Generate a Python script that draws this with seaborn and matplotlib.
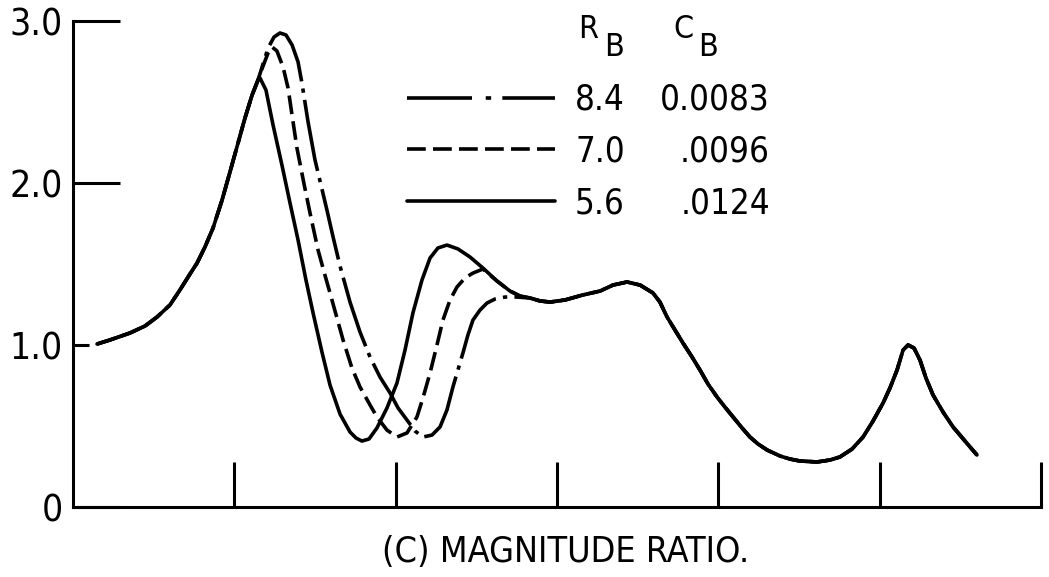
import os
import glob
import numpy as np
import pandas as pd
import matplotlib
matplotlib.use("Agg")
import matplotlib.pyplot as plt
import seaborn as sns
from matplotlib import font_manager as fm
from matplotlib.lines import Line2D

# ---------------- data ----------------
series_rb = ["8.4", "7.0", "5.6"]
series_cb = ["0.0083", ".0096", ".0124"]

# common rising branch (all three coincide)
rise_x = [0.149, 0.229, 0.353, 0.446, 0.521, 0.601, 0.663, 0.725, 0.769, 0.818,
          0.868, 0.924, 0.973, 1.023, 1.066, 1.110, 1.147]
rise_y = [1.006, 1.031, 1.074, 1.117, 1.173, 1.247, 1.340, 1.438, 1.506, 1.605,
          1.722, 1.895, 2.068, 2.247, 2.401, 2.543, 2.636]

# R_B = 5.6 (solid) distinct part
s56_x = [1.159, 1.196, 1.240, 1.295, 1.345, 1.395, 1.444, 1.488, 1.543, 1.593,
         1.655, 1.717, 1.754, 1.791, 1.835, 1.884, 1.946, 2.008, 2.058, 2.107,
         2.163, 2.213, 2.262, 2.318, 2.386, 2.461, 2.541, 2.628, 2.709, 2.771]
s56_y = [2.648, 2.574, 2.358, 2.111, 1.877, 1.648, 1.401, 1.198, 0.957, 0.753,
         0.574, 0.463, 0.426, 0.407, 0.420, 0.488, 0.611, 0.765, 0.969, 1.198,
         1.401, 1.537, 1.599, 1.617, 1.593, 1.543, 1.475, 1.395, 1.333, 1.302]

# R_B = 7.0 (dashed) distinct part
s70_x = [1.178, 1.209, 1.233, 1.264, 1.302, 1.333, 1.364, 1.388, 1.432, 1.469,
         1.519, 1.556, 1.593, 1.636, 1.674, 1.729, 1.779, 1.841, 1.884, 1.946,
         2.008, 2.070, 2.132, 2.169, 2.213, 2.256, 2.293, 2.337, 2.380, 2.430,
         2.479, 2.541, 2.628, 2.709, 2.771]
s70_y = [2.722, 2.802, 2.840, 2.815, 2.716, 2.586, 2.377, 2.216, 1.994, 1.815,
         1.586, 1.451, 1.321, 1.167, 1.031, 0.858, 0.741, 0.630, 0.556, 0.475,
         0.432, 0.457, 0.556, 0.673, 0.827, 1.000, 1.154, 1.278, 1.358, 1.414,
         1.444, 1.469, 1.395, 1.333, 1.302]

# R_B = 8.4 (dash-dot) distinct part
s84_x = [1.178, 1.209, 1.246, 1.283, 1.320, 1.358, 1.395, 1.419, 1.457, 1.500,
         1.537, 1.574, 1.612, 1.655, 1.717, 1.779, 1.841, 1.903, 1.965, 2.015,
         2.070, 2.120, 2.169, 2.225, 2.275, 2.318, 2.355, 2.386, 2.417, 2.448,
         2.479, 2.523, 2.566, 2.616, 2.678, 2.752]
s84_y = [2.735, 2.833, 2.901, 2.926, 2.914, 2.852, 2.747, 2.617, 2.377, 2.142,
         1.988, 1.833, 1.667, 1.488, 1.265, 1.080, 0.926, 0.802, 0.704, 0.611,
         0.537, 0.469, 0.432, 0.444, 0.494, 0.599, 0.741, 0.846, 0.951, 1.062,
         1.154, 1.216, 1.259, 1.284, 1.296, 1.296]

# common tail (all three coincide)
tail_x = [2.833, 2.895, 2.957, 3.050, 3.161, 3.267, 3.347, 3.434, 3.515, 3.595,
          3.638, 3.682, 3.731, 3.781, 3.837, 3.886, 3.936, 3.992, 4.041, 4.091,
          4.147, 4.196, 4.246, 4.302, 4.382, 4.444, 4.506, 4.612, 4.692, 4.754,
          4.829, 4.897, 4.959, 5.021, 5.064, 5.108, 5.145, 5.176, 5.213, 5.250,
          5.287, 5.331, 5.393, 5.455, 5.529, 5.603]
tail_y = [1.290, 1.272, 1.265, 1.278, 1.309, 1.333, 1.370, 1.389, 1.370, 1.321,
          1.265, 1.173, 1.093, 1.012, 0.926, 0.846, 0.759, 0.679, 0.617, 0.556,
          0.488, 0.432, 0.389, 0.352, 0.315, 0.296, 0.284, 0.278, 0.290, 0.309,
          0.358, 0.432, 0.531, 0.642, 0.735, 0.846, 0.969, 1.000, 0.981, 0.907,
          0.796, 0.691, 0.586, 0.494, 0.407, 0.321]

y_ticks = [0, 1, 2, 3]
y_tick_labels = ["0", "1.0", "2.0", "3.0"]
x_ticks = [1, 2, 3, 4, 5, 6]
x_label = "(C) MAGNITUDE RATIO."

# ---------------- font ----------------
def find_font():
    files = set(f.fname for f in fm.fontManager.ttflist)
    for pat in ["/usr/share/fonts/**/*.ttf", "/usr/local/share/fonts/**/*.ttf"]:
        files.update(glob.glob(pat, recursive=True))
    base = {os.path.basename(f): f for f in files}
    prefs = ["DejaVuSansCondensed.ttf", "LiberationSansNarrow-Regular.ttf",
             "RobotoCondensed-Regular.ttf", "OpenSans_Condensed-Regular.ttf",
             "NotoSans-Condensed.ttf"]
    for p in prefs:
        if p in base:
            return fm.FontProperties(fname=base[p])
    for f in sorted(files):
        b = os.path.basename(f)
        if ("Condensed" in b or "Narrow" in b) and not any(
                k in b for k in ["Bold", "Italic", "Oblique", "Light", "Thin",
                                 "Black", "Semi", "Extra", "Medium"]):
            return fm.FontProperties(fname=f)
    return fm.FontProperties(family="DejaVu Sans")

sns.set_theme(style="white")
plt.rcParams["text.color"] = "black"
plt.rcParams["axes.labelcolor"] = "black"
plt.rcParams["xtick.color"] = "black"
plt.rcParams["ytick.color"] = "black"
plt.rcParams["lines.solid_joinstyle"] = "round"
plt.rcParams["lines.dash_joinstyle"] = "round"
FP = find_font()

def fps(size):
    p = FP.copy()
    p.set_size(size)
    return p

# ---------------- figure ----------------
W, H = 1049, 577
fig = plt.figure(figsize=(W / 100, H / 100), dpi=100)
fig.patch.set_facecolor("white")
ax = fig.add_axes([73 / W, (H - 507) / H, 968 / W, 486 / H])
ax.set_facecolor("white")

def seg(label, xs, ys):
    return pd.DataFrame({"x": xs, "y": ys, "RB": label})

rows = []
for lab, mx, my in [("5.6", s56_x, s56_y), ("7.0", s70_x, s70_y), ("8.4", s84_x, s84_y)]:
    rows.append(seg(lab, rise_x + mx + tail_x, rise_y + my + tail_y))
df = pd.concat(rows, ignore_index=True)

LW = 2.6
dash_map = {"5.6": "", "7.0": (5.2, 2.0), "8.4": (20, 2.0, 1.2, 2.0)}
sns.lineplot(data=df, x="x", y="y", hue="RB", style="RB",
             hue_order=["5.6", "7.0", "8.4"], style_order=["5.6", "7.0", "8.4"],
             palette={k: "black" for k in dash_map}, dashes=dash_map,
             estimator=None, sort=False, lw=LW, legend=False, ax=ax)

ax.set_xlim(0, 6)
ax.set_ylim(0, 3)
ax.set_ylabel("")
sns.despine(ax=ax)
for s in ["left", "bottom"]:
    ax.spines[s].set_linewidth(2.2)
    ax.spines[s].set_color("black")

fig.canvas.draw()
R = fig.canvas.get_renderer()

def width_at(text, size):
    t = fig.text(0, 0, text, fontproperties=fps(size))
    w = t.get_window_extent(R).width
    t.remove()
    return w

def fit(text, target, maxsize):
    return min(maxsize, 20 * target / width_at(text, 20))

tick_sz = fit("3.0", 53, 30)
leg_sz = fit("0.0083", 123, 25)
lab_sz = fit(x_label, 367, 33)
hdr_sz = 23

ax.set_yticks(y_ticks, y_tick_labels, fontproperties=fps(tick_sz), color="black")
ax.set_xticks(x_ticks, [""] * len(x_ticks))
ax.tick_params(axis="y", direction="in", length=34, width=2.2, pad=7.2,
               colors="black", labelcolor="black", left=True)
ax.tick_params(axis="x", direction="in", length=32.5, width=2.2,
               labelbottom=False, colors="black", bottom=True)
for tk in ax.yaxis.get_major_ticks():
    if abs(tk.get_loc() - 1) < 1e-9:
        tk.tick1line.set_markersize(11.5)

ax.set_xlabel(x_label, fontproperties=fps(lab_sz), va="baseline", color="black")
ax.xaxis.set_label_coords(0.509, (507 - 562) / 486)

# ---------------- legend ----------------
handles = [Line2D([], [], color="black", lw=LW, dashes=(18, 3.8, 1.5, 3.1)),
           Line2D([], [], color="black", lw=LW, dashes=(5.2, 2.0)),
           Line2D([], [], color="black", lw=LW)]
fs_px = leg_sz * 100 / 72

def build_legend(ls, anchor):
    return ax.legend(handles, series_rb, loc="upper left", bbox_to_anchor=anchor,
                     bbox_transform=ax.transAxes, frameon=False, prop=fps(leg_sz),
                     handlelength=148 / fs_px, handletextpad=20 / fs_px,
                     labelspacing=ls, borderpad=0, borderaxespad=0,
                     labelcolor="black")

target_base = [H - 110, H - 163, H - 213]   # display coords (origin bottom)
desc = R.get_text_width_height_descent("lp", fps(leg_sz), ismath=False)[2]
anchor = [(407 - 73) / 968, 0.884]
ls = 0.3
for _ in range(3):
    leg = build_legend(ls, tuple(anchor))
    fig.canvas.draw()
    bbs = [t.get_window_extent(R) for t in leg.get_texts()]
    bases = [b.y0 + desc for b in bbs]
    pitch = (bases[0] - bases[2]) / 2
    tpitch = (target_base[0] - target_base[2]) / 2
    ls = ls + (tpitch - pitch) / fs_px
    anchor[1] += (target_base[0] - bases[0]) / 486
    anchor[0] += (575 - bbs[0].x0) / 968
    leg.remove()
leg = build_legend(ls, tuple(anchor))
fig.canvas.draw()
bbs = [t.get_window_extent(R) for t in leg.get_texts()]

axbb = ax.get_window_extent(R)
for cb, b in zip(series_cb, bbs):
    base = b.y0 + desc
    ax.text((770 - 73) / 968, (base - axbb.y0) / axbb.height, cb,
            transform=ax.transAxes, ha="right", va="baseline",
            fontproperties=fps(leg_sz), color="black")

# column headers R_B and C_B
def ax_pt(px, py):
    return (px - 73) / 968, (507 - py) / 486

for ch, px, py in [("R", 578, 38), ("B", 604, 56), ("C", 673, 38), ("B", 698, 56)]:
    xx, yy = ax_pt(px, py)
    ax.text(xx, yy, ch, transform=ax.transAxes, ha="left", va="baseline",
            fontproperties=fps(hdr_sz), color="black", clip_on=False)

fig.savefig("out.png", dpi=100, facecolor="white")
